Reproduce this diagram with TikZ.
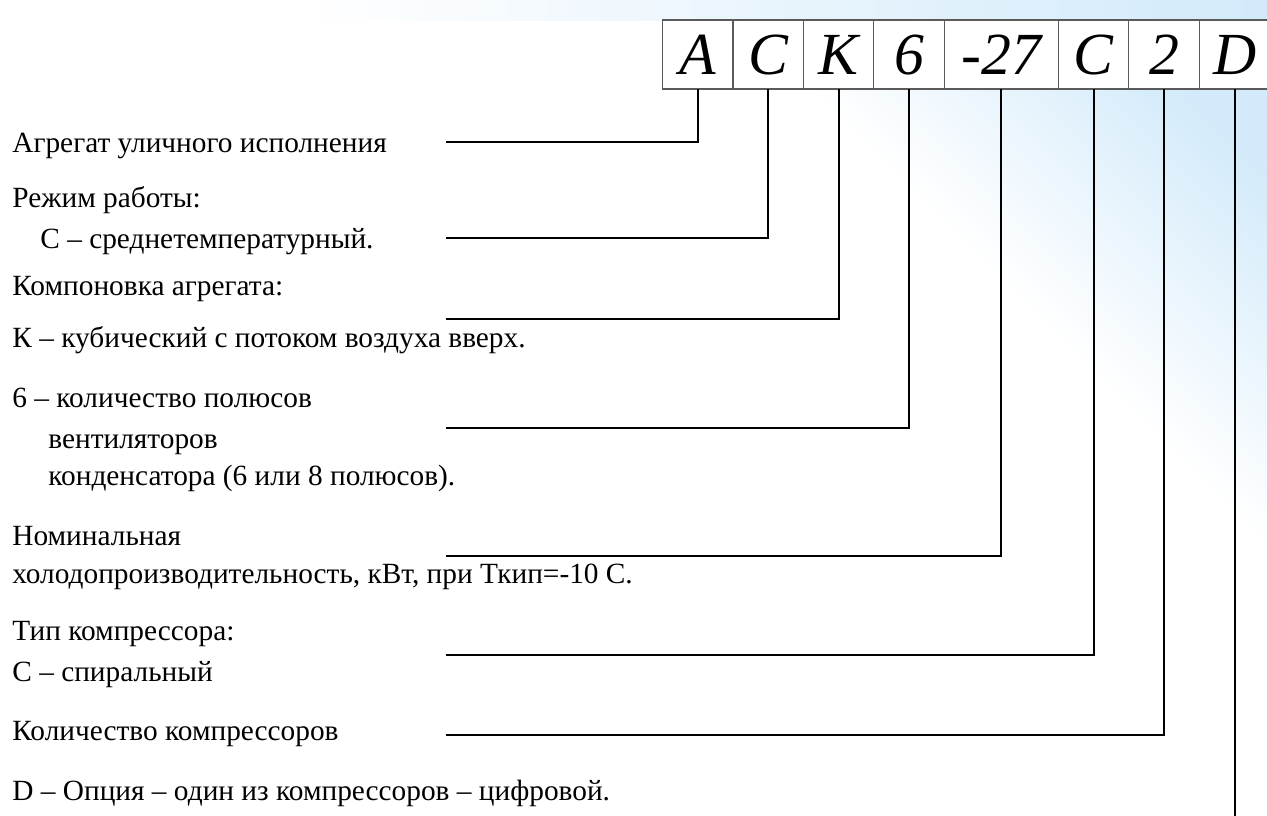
\documentclass[tikz,border=0pt]{standalone}
\usepackage{fontspec}
\setmainfont{Liberation Serif}
\usetikzlibrary{positioning,shadings}
\definecolor{bgblue}{RGB}{210,234,250}
\definecolor{boxgray}{RGB}{90,90,90}
\newcommand\descfont{\fontsize{16.7}{20}\selectfont}
\newcommand\codefont{\fontsize{34}{34}\selectfont\itshape}
\tikzset{
	cell/.style={draw=boxgray, line width=0.6pt, fill=white, minimum width=1.41cm, minimum height=1.38cm, inner sep=0pt, outer sep=0pt, text height=23pt, text depth=0pt, font=\codefont},
	desc/.style={anchor=base west, inner sep=0pt, font=\descfont},
	lead/.style={line width=1.15pt}
}
\begin{document}
\begin{tikzpicture}[x=0.02cm, y=-0.02cm]
	\useasboundingbox (0,0) rectangle (1267,815);
	\begin{scope}
		\clip (0,0) rectangle (1267,815);
		\begin{scope}[transform canvas={rotate around={45:(820,103)}}]
			\shade [left color=white, right color=bgblue] (820,-1500) rectangle (1090,1500);
			\fill [bgblue] (1090,-1500) rectangle (2600,1500);
		\end{scope}
		\shade [left color=white, right color=bgblue] (300,0) rectangle (1267,20);
	\end{scope}
	
	\node [cell, anchor=north west] (cA) at (662.5,20) {А};
	\node [cell, right=0pt of cA] (cC) {С};
	\node [cell, right=0pt of cC] (cK) {К};
	\node [cell, right=0pt of cK] (c6) {6};
	\node [cell, right=0pt of c6, minimum width=2.28cm] (c27) {-27};
	\node [cell, right=0pt of c27] (cC2) {С};
	\node [cell, right=0pt of cC2] (c2) {2};
	\node [cell, right=0pt of c2] (cD) {D};
	
	\node [desc] (tA) at (12,152) {Агрегат уличного исполнения};
	\node [desc] (tC1) at (12,207) {Режим работы:};
	\node [desc] (tC2) at (40,248) {С – среднетемпературный.};
	\node [desc] (tK1) at (12,295) {Компоновка агрегата:};
	\node [desc] (tK2) at (12,347) {К – кубический с потоком воздуха вверх.};
	\node [desc] (t61) at (12,407) {6 – количество полюсов};
	\node [desc] (t62) at (48,448) {вентиляторов};
	\node [desc] (t63) at (48,485) {конденсатора (6 или 8 полюсов).};
	\node [desc] (tN1) at (12,545) {Номинальная};
	\node [desc] (tN2) at (12,583) {холодопроизводительность, кВт, при Ткип=-10 С.};
	\node [desc] (tT1) at (12,640) {Тип компрессора:};
	\node [desc] (tT2) at (12,681) {С – спиральный};
	\node [desc] (tQ) at (12,740) {Количество компрессоров};
	\node [desc] (tD) at (12,800) {D – Опция – один из компрессоров – цифровой.};
	
	\coordinate (sA) at (446,142);
	\coordinate (sC) at (446,238);
	\coordinate (sK) at (446,319);
	\coordinate (s6) at (446,428);
	\coordinate (s27) at (446,556);
	\coordinate (sC2) at (446,655);
	\coordinate (s2) at (446,735);
	\coordinate (sD) at (446,820);
	\draw [lead] (sA) -| (cA.south);
	\draw [lead] (sC) -| (cC.south);
	\draw [lead] (sK) -| (cK.south);
	\draw [lead] (s6) -| (c6.south);
	\draw [lead] (s27) -| (c27.south);
	\draw [lead] (sC2) -| (cC2.south);
	\draw [lead] (s2) -| (c2.south);
	\draw [lead] (sD) -| (cD.south);
\end{tikzpicture}
\end{document}
